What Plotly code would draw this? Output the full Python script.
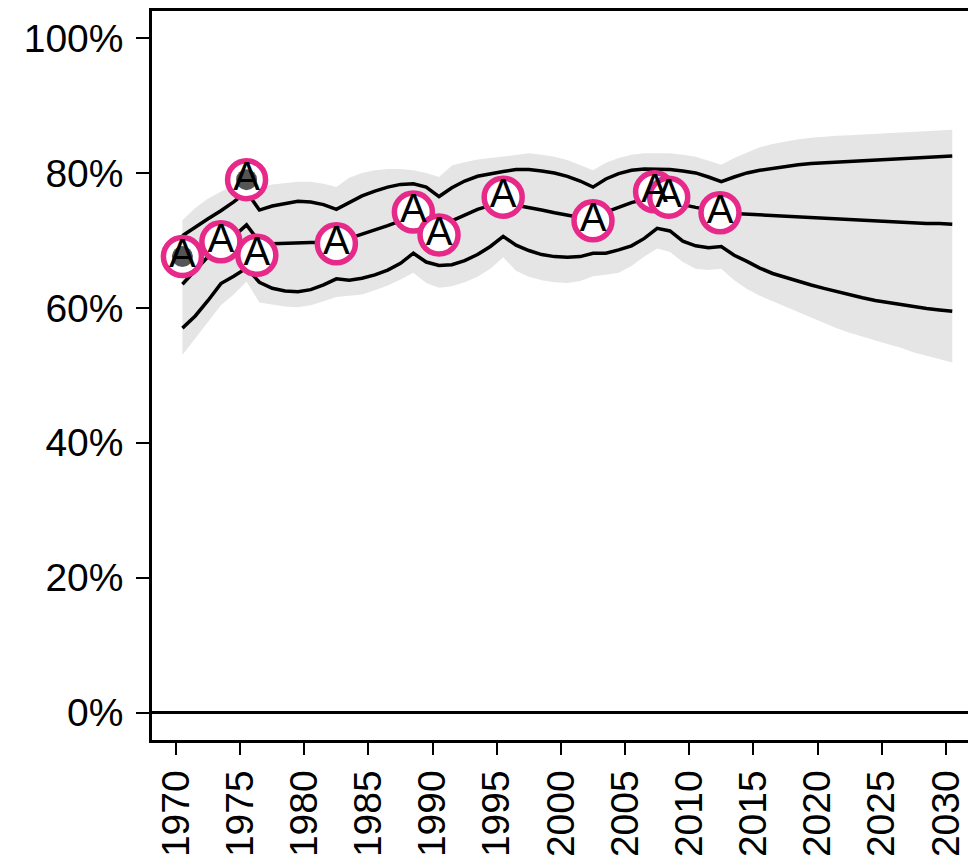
import plotly.graph_objects as go

# mid-year positions of the estimate series
years = [1970.5, 1971.5, 1972.5, 1973.5, 1974.5, 1975.5, 1976.5, 1977.5, 1978.5, 1979.5,
         1980.5, 1981.5, 1982.5, 1983.5, 1984.5, 1985.5, 1986.5, 1987.5, 1988.5, 1989.5,
         1990.5, 1991.5, 1992.5, 1993.5, 1994.5, 1995.5, 1996.5, 1997.5, 1998.5, 1999.5,
         2000.5, 2001.5, 2002.5, 2003.5, 2004.5, 2005.5, 2006.5, 2007.5, 2008.5, 2009.5,
         2010.5, 2011.5, 2012.5, 2013.5, 2014.5, 2015.5, 2016.5, 2017.5, 2018.5, 2019.5,
         2020.5, 2021.5, 2022.5, 2023.5, 2024.5, 2025.5, 2026.5, 2027.5, 2028.5, 2029.5,
         2030.5]

median = [63.5, 65.6, 67.6, 69.3, 70.6, 72.3, 69.8, 69.5, 69.6, 69.6,
          69.7, 69.7, 69.8, 70.3, 70.9, 71.5, 72.2, 72.9, 73.7, 72.6,
          71.6, 72.9, 73.8, 74.6, 75.2, 75.7, 75.2, 74.9, 74.5, 74.1,
          73.7, 73.4, 73.2, 74.2, 74.9, 75.6, 76.1, 76.5, 76.0, 75.3,
          74.9, 74.5, 74.2, 74.0, 73.9, 73.8, 73.7, 73.6, 73.5, 73.4,
          73.3, 73.2, 73.0, 72.9, 72.8, 72.7, 72.7, 72.6, 72.5, 72.5,
          72.4]

upper80 = [70.7, 72.0, 73.2, 74.4, 75.7, 77.2, 74.5, 75.1, 75.5, 75.8,
           75.7, 75.3, 74.6, 75.6, 76.6, 77.3, 77.9, 78.3, 78.4, 77.9,
           76.5, 77.8, 78.8, 79.5, 79.9, 80.2, 80.5, 80.5, 80.3, 80.0,
           79.5, 78.8, 77.9, 79.1, 79.9, 80.4, 80.6, 80.6, 80.5, 80.3,
           80.0, 79.4, 78.7, 79.4, 80.0, 80.4, 80.7, 80.9, 81.2, 81.4,
           81.5, 81.7, 81.8, 81.9, 82.0, 82.1, 82.2, 82.3, 82.4, 82.5,
           82.5]

lower80 = [57.0, 58.8, 61.1, 63.6, 64.7, 65.9, 63.8, 62.9, 62.5, 62.4,
           62.7, 63.4, 64.3, 64.1, 64.4, 64.9, 65.6, 66.6, 68.1, 66.8,
           66.3, 66.4, 67.0, 67.9, 69.1, 70.6, 69.3, 68.5, 67.9, 67.6,
           67.5, 67.6, 68.1, 68.1, 68.6, 69.2, 70.3, 71.8, 71.4, 69.9,
           69.2, 68.9, 69.1, 67.8, 66.9, 65.9, 65.1, 64.5, 63.9, 63.4,
           62.9, 62.4, 61.9, 61.5, 61.1, 60.8, 60.4, 60.1, 59.9, 59.7,
           59.5]

upper95 = [73.0, 74.8, 76.2, 77.2, 78.2, 79.5, 77.9, 78.3, 78.5, 78.7,
           78.7, 78.4, 77.9, 79.3, 80.0, 80.4, 80.6, 80.6, 80.4, 80.0,
           79.4, 81.1, 81.6, 82.0, 82.2, 82.4, 82.7, 82.9, 82.7, 82.4,
           81.9, 81.2, 80.4, 81.5, 82.2, 82.7, 82.9, 82.9, 82.9, 82.7,
           82.4, 81.8, 81.2, 82.2, 83.0, 83.8, 84.3, 84.7, 85.0, 85.2,
           85.4, 85.5, 85.6, 85.7, 85.8, 85.9, 86.1, 86.2, 86.3, 86.4,
           86.4]

lower95 = [53.0, 55.5, 58.0, 60.4, 62.0, 63.9, 60.8, 60.5, 60.2, 60.1,
           60.4, 61.0, 61.6, 61.8, 62.0, 62.6, 63.3, 64.2, 65.2, 63.7,
           63.0, 63.2, 63.8, 64.6, 65.8, 67.5, 65.5, 64.6, 64.1, 63.8,
           63.7, 64.0, 64.7, 64.9, 65.2, 66.2, 67.6, 68.8, 68.3, 66.8,
           65.8, 65.6, 65.8, 64.1, 62.8, 61.8, 61.0, 60.2, 59.3, 58.5,
           57.7, 57.0, 56.3, 55.7, 55.1, 54.6, 54.1, 53.4, 52.9, 52.4,
           51.9]

# observed survey points
obs_year = [1970.5, 1973.5, 1975.5, 1976.3, 1982.5, 1988.5, 1990.5, 1995.5,
            2002.5, 2007.3, 2008.4, 2012.4]
obs_value = [67.6, 69.8, 79.0, 67.8, 69.5, 74.2, 70.8, 76.4, 72.9, 77.2, 76.4, 74.1]
obs_label = ["A"] * 12
obs_inner = [True, False, True, False, False, False, False, False, False, False, False, False]

xtick_vals = [1970, 1975, 1980, 1985, 1990, 1995, 2000, 2005, 2010, 2015, 2020, 2025, 2030]
ytick_vals = [0, 20, 40, 60, 80, 100]
ytick_text = ["0%", "20%", "40%", "60%", "80%", "100%"]

FONT = "Liberation Sans, Arial, sans-serif"
PINK = "#E7298A"

fig = go.Figure()

# 95% band
fig.add_trace(go.Scatter(x=years, y=upper95, mode="lines", line=dict(width=0),
                         hoverinfo="skip"))
fig.add_trace(go.Scatter(x=years, y=lower95, mode="lines", line=dict(width=0),
                         fill="tonexty", fillcolor="#E5E5E5", hoverinfo="skip"))

for series in (upper80, median, lower80):
    fig.add_trace(go.Scatter(x=years, y=series, mode="lines",
                             line=dict(color="black", width=3.5)))

fig.add_trace(go.Scatter(
    x=obs_year, y=obs_value, mode="markers",
    marker=dict(size=38, color="white", line=dict(color=PINK, width=5.5)),
))

fig.add_trace(go.Scatter(
    x=[x for x, f in zip(obs_year, obs_inner) if f],
    y=[v for v, f in zip(obs_value, obs_inner) if f],
    mode="markers",
    marker=dict(size=21, color="#555555"),
))

fig.add_trace(go.Scatter(
    x=obs_year, y=obs_value, mode="text", text=obs_label,
    textposition="middle center",
    textfont=dict(family=FONT, size=40, color="black"),
))

# the page body adds 8px around the figure; keep the figure inside the window
fig.update_layout(
    width=968, height=857,
    margin=dict(l=144, r=0, t=3, b=125, autoexpand=False),
    plot_bgcolor="white", paper_bgcolor="white",
    showlegend=False,
    font=dict(family=FONT, size=39, color="black"),
)

fig.update_xaxes(
    range=[1968.13, 2032.35],
    tickvals=xtick_vals, tickangle=-90,
    ticks="outside", ticklen=12, tickwidth=2, tickcolor="black",
    ticklabelstandoff=0,
    showline=True, linewidth=2.5, linecolor="black", mirror=True,
    showgrid=False, zeroline=False, automargin=False,
    tickfont=dict(family=FONT, size=39, color="black"),
)

fig.update_yaxes(
    range=[-4.04, 104.0],
    tickvals=ytick_vals, ticktext=ytick_text,
    ticks="outside", ticklen=13, tickwidth=2, tickcolor="black",
    ticklabelstandoff=5,
    showline=True, linewidth=2.5, linecolor="black", mirror=False,
    showgrid=False, automargin=False,
    zeroline=True, zerolinecolor="black", zerolinewidth=2.5,
    tickfont=dict(family=FONT, size=39, color="black"),
)

fig.write_html("out.html")
